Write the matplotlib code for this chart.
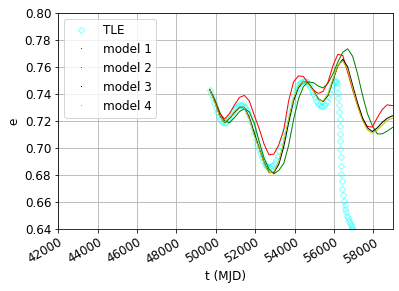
import numpy as np
import matplotlib
matplotlib.use("Agg")
import matplotlib.pyplot as plt

plt.rcParams['font.size'] = 12

# TLE eccentricity
tle_t = [49700, 49775, 49850, 49925, 50000, 50075, 50150, 50225, 50300, 50375,
         50450, 50525, 50600, 50675, 50750, 50825, 50900, 50975, 51050, 51125,
         51200, 51275, 51350, 51425, 51500, 51575, 51650, 51725, 51800, 51875,
         51950, 52025, 52100, 52175, 52250, 52325, 52400, 52475, 52550, 52625,
         52700, 52775, 52850, 52925, 53000, 53075, 53150, 53225, 53300, 53375,
         53450, 53525, 53600, 53675, 53750, 53825, 53900, 53975, 54050, 54125,
         54200, 54275, 54350, 54425, 54500, 54575, 54650, 54725, 54800, 54875,
         54950, 55025, 55100, 55175, 55250, 55325, 55400, 55475, 55550, 55625,
         55700, 55775, 55850, 55925, 56000, 56050, 56100, 56140, 56180, 56210,
         56230, 56250, 56270, 56285, 56295, 56308, 56320, 56333, 56345, 56362,
         56380, 56405, 56430, 56465, 56500, 56540, 56580, 56625, 56670, 56715,
         56760, 56805, 56850, 56895, 56940, 56980, 57020]
tle_e = [0.743, 0.740, 0.737, 0.7335, 0.730, 0.727, 0.724, 0.7215, 0.7195, 0.719,
         0.7188, 0.7195, 0.7205, 0.7225, 0.7245, 0.7265, 0.728, 0.7295, 0.7305, 0.7315,
         0.732, 0.7322, 0.7322, 0.7315, 0.7305, 0.7285, 0.726, 0.7228, 0.719, 0.715,
         0.711, 0.707, 0.703, 0.6995, 0.696, 0.693, 0.6905, 0.6885, 0.687, 0.6865,
         0.6862, 0.6862, 0.6865, 0.6875, 0.689, 0.691, 0.694, 0.6975, 0.701, 0.705,
         0.709, 0.7135, 0.718, 0.7225, 0.727, 0.731, 0.735, 0.7385, 0.742, 0.7445,
         0.7465, 0.748, 0.749, 0.7497, 0.750, 0.7497, 0.749, 0.747, 0.745, 0.7425,
         0.740, 0.7375, 0.735, 0.7333, 0.732, 0.7312, 0.731, 0.7315, 0.733, 0.7352,
         0.738, 0.741, 0.744, 0.7467, 0.749, 0.7498, 0.750, 0.7485, 0.745, 0.741,
         0.737, 0.732, 0.727, 0.7215, 0.716, 0.7105, 0.705, 0.699, 0.693, 0.687,
         0.681, 0.6755, 0.670, 0.6655, 0.661, 0.658, 0.655, 0.6525, 0.650, 0.648,
         0.646, 0.6445, 0.643, 0.6415, 0.640, 0.639, 0.638]

# model time grid
mod_t = [49700, 49950, 50200, 50450, 50700, 50950, 51200, 51450, 51700, 51950,
         52200, 52450, 52700, 52950, 53200, 53450, 53700, 53950, 54200, 54450,
         54700, 54950, 55200, 55450, 55700, 55950, 56200, 56450, 56700, 56950,
         57200, 57450, 57700, 57950, 58200, 58450, 58700, 58950, 59000]

model1 = [0.743, 0.736, 0.7265, 0.720, 0.7188, 0.7225, 0.727, 0.7292, 0.7268, 0.7185,
          0.705, 0.6925, 0.6845, 0.6808, 0.6835, 0.6885, 0.702, 0.721, 0.7365, 0.7455,
          0.749, 0.7485, 0.746, 0.7445, 0.748, 0.755, 0.7638, 0.771, 0.7735, 0.768,
          0.755, 0.7393, 0.7255, 0.7165, 0.7105, 0.7105, 0.7125, 0.715, 0.7155]
model2 = [0.7435, 0.735, 0.7255, 0.7215, 0.7255, 0.732, 0.7375, 0.739, 0.735, 0.7245,
          0.7145, 0.703, 0.695, 0.6955, 0.7025, 0.7135, 0.735, 0.749, 0.7535, 0.753,
          0.748, 0.743, 0.7405, 0.742, 0.749, 0.761, 0.7695, 0.7685, 0.756, 0.743,
          0.7315, 0.7215, 0.716, 0.7155, 0.7225, 0.7285, 0.732, 0.7315, 0.7315]
model3 = [0.743, 0.7345, 0.724, 0.7188, 0.722, 0.7265, 0.7302, 0.7302, 0.7228, 0.7115,
          0.700, 0.6895, 0.682, 0.6818, 0.688, 0.701, 0.719, 0.735, 0.745, 0.7495,
          0.748, 0.743, 0.7365, 0.7345, 0.739, 0.750, 0.761, 0.7658, 0.760, 0.7465,
          0.7335, 0.7225, 0.715, 0.7122, 0.715, 0.719, 0.722, 0.7238, 0.7239]
model4 = [0.743, 0.734, 0.7235, 0.719, 0.7225, 0.727, 0.7305, 0.730, 0.7215, 0.7095,
          0.6995, 0.689, 0.6815, 0.6825, 0.690, 0.705, 0.722, 0.737, 0.746, 0.7495,
          0.7475, 0.7425, 0.736, 0.735, 0.740, 0.751, 0.7615, 0.7645, 0.758, 0.7441,
          0.731, 0.7205, 0.7135, 0.711, 0.7135, 0.717, 0.7205, 0.722, 0.7223]

models = [(model1, 'g', 'model 1'), (model2, 'r', 'model 2'),
          (model3, 'k', 'model 3'), (model4, 'y', 'model 4')]

fig = plt.figure(figsize=(399 / 72, 291 / 72), dpi=72)
ax = fig.add_axes([0.146, 0.213, 0.839, 0.742])

ax.plot(tle_t, tle_e, linestyle='none', marker='D', ms=4.5, mfc='none',
        mec='cyan', mew=1.2, alpha=0.4, label='TLE')
for vals, col, name in models:
    ax.plot(mod_t, vals, color=col, lw=1)
    ax.plot([], [], col + ',', label=name)  # legend entry only

ax.set_xlim(42000, 59000)
ax.set_ylim(0.64, 0.80)
ax.set_xticks(np.arange(42000, 58001, 2000))
ax.set_yticks(np.arange(0.64, 0.8001, 0.02))
ax.yaxis.set_major_formatter(plt.FormatStrFormatter('%.2f'))
plt.setp(ax.get_xticklabels(), rotation=30, ha='right', rotation_mode='anchor')
ax.grid(True)
ax.set_xlabel('t (MJD)')
ax.set_ylabel('e')
ax.legend(loc='upper left')

fig.savefig('out.png', dpi=72)
